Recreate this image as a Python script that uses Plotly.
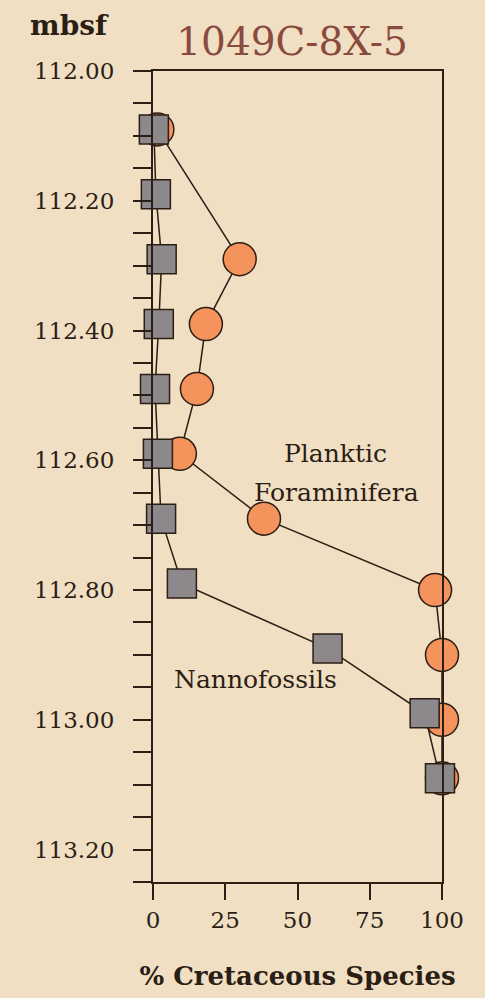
import plotly.graph_objects as go

# Nannofossils (% Cretaceous species) by depth (mbsf)
nanno_depth = [112.09, 112.19, 112.29, 112.39, 112.49, 112.59, 112.69, 112.79, 112.89, 112.99, 113.09]
nanno_pct = [0.3, 1.0, 3.0, 2.0, 0.7, 1.7, 2.8, 10.0, 60.4, 94.0, 99.3]

# Planktic foraminifera
foram_depth = [112.09, 112.29, 112.39, 112.49, 112.59, 112.69, 112.80, 112.90, 113.00, 113.09]
foram_pct = [1.5, 30.0, 18.3, 15.2, 9.3, 38.4, 97.6, 100.0, 100.0, 100.0]

y_tickvals = [112.00, 112.20, 112.40, 112.60, 112.80, 113.00, 113.20]
y_ticktext = ["112.00", "112.20", "112.40", "112.60", "112.80", "113.00", "113.20"]
x_tickvals = [0, 25, 50, 75, 100]
x_ticktext = ["0", "25", "50", "75", "100"]

BG = "#f1dfc4"
INK = "#2b1e14"
SERIF = "DejaVu Serif"

fig = go.Figure()
fig.add_trace(go.Scatter(
    x=foram_pct, y=foram_depth, mode="lines+markers",
    line=dict(color=INK, width=1.5),
    marker=dict(symbol="circle", size=33, color="#f5935c", line=dict(color=INK, width=1.5)),
    cliponaxis=False, showlegend=False, name="Planktic Foraminifera",
))
fig.add_trace(go.Scatter(
    x=nanno_pct, y=nanno_depth, mode="lines+markers",
    line=dict(color=INK, width=1.5),
    marker=dict(symbol="square", size=29, color="#8d888b", line=dict(color=INK, width=1.5)),
    cliponaxis=False, showlegend=False, name="Nannofossils",
))

fig.add_annotation(text="Planktic", x=63.3, y=112.589, xref="x", yref="y",
                   showarrow=False, font=dict(family=SERIF, size=25, color=INK))
fig.add_annotation(text="Foraminifera", x=63.6, y=112.649, xref="x", yref="y",
                   showarrow=False, font=dict(family=SERIF, size=25, color=INK))
fig.add_annotation(text="Nannofossils", x=35.6, y=112.938, xref="x", yref="y",
                   showarrow=False, font=dict(family=SERIF, size=25, color=INK))
fig.add_annotation(text="<b>mbsf</b>", x=-0.29, y=1.0567, xref="paper", yref="paper",
                   xanchor="center", yanchor="middle",
                   showarrow=False, font=dict(family=SERIF, size=28, color=INK))

fig.update_layout(
    width=485, height=998,
    paper_bgcolor=BG, plot_bgcolor=BG,
    margin=dict(l=153, r=43, t=71, b=116),
    title=dict(text="1049C-8X-5", x=292/485, xanchor="center", y=1-41/998, yanchor="middle",
               font=dict(family=SERIF, size=39, color="#8a4a3e")),
    xaxis=dict(range=[0, 100], tickvals=x_tickvals, ticktext=x_ticktext,
               showgrid=False, zeroline=False, showline=True, linecolor=INK, linewidth=2,
               mirror=True, ticks="outside", ticklen=16, tickwidth=2, tickcolor=INK,
               tickfont=dict(family=SERIF, size=23, color=INK),
               title=dict(text="<b>% Cretaceous Species</b>", standoff=35,
                          font=dict(family=SERIF, size=26, color=INK))),
    yaxis=dict(range=[113.25, 112.0], tickvals=y_tickvals, ticktext=y_ticktext,
               showgrid=False, zeroline=False, showline=True, linecolor=INK, linewidth=2,
               mirror=True, ticks="outside", ticklen=18, tickwidth=2, tickcolor=INK,
               ticklabelstandoff=14,
               tickfont=dict(family=SERIF, size=23, color=INK),
               minor=dict(tick0=112.0, dtick=0.05, ticks="outside", ticklen=18, tickwidth=2,
                          tickcolor=INK, showgrid=False)),
)

fig.write_html("out.html", config={"displayModeBar": False},
               post_script="document.body.style.margin='0';document.body.style.background='%s';" % BG)
